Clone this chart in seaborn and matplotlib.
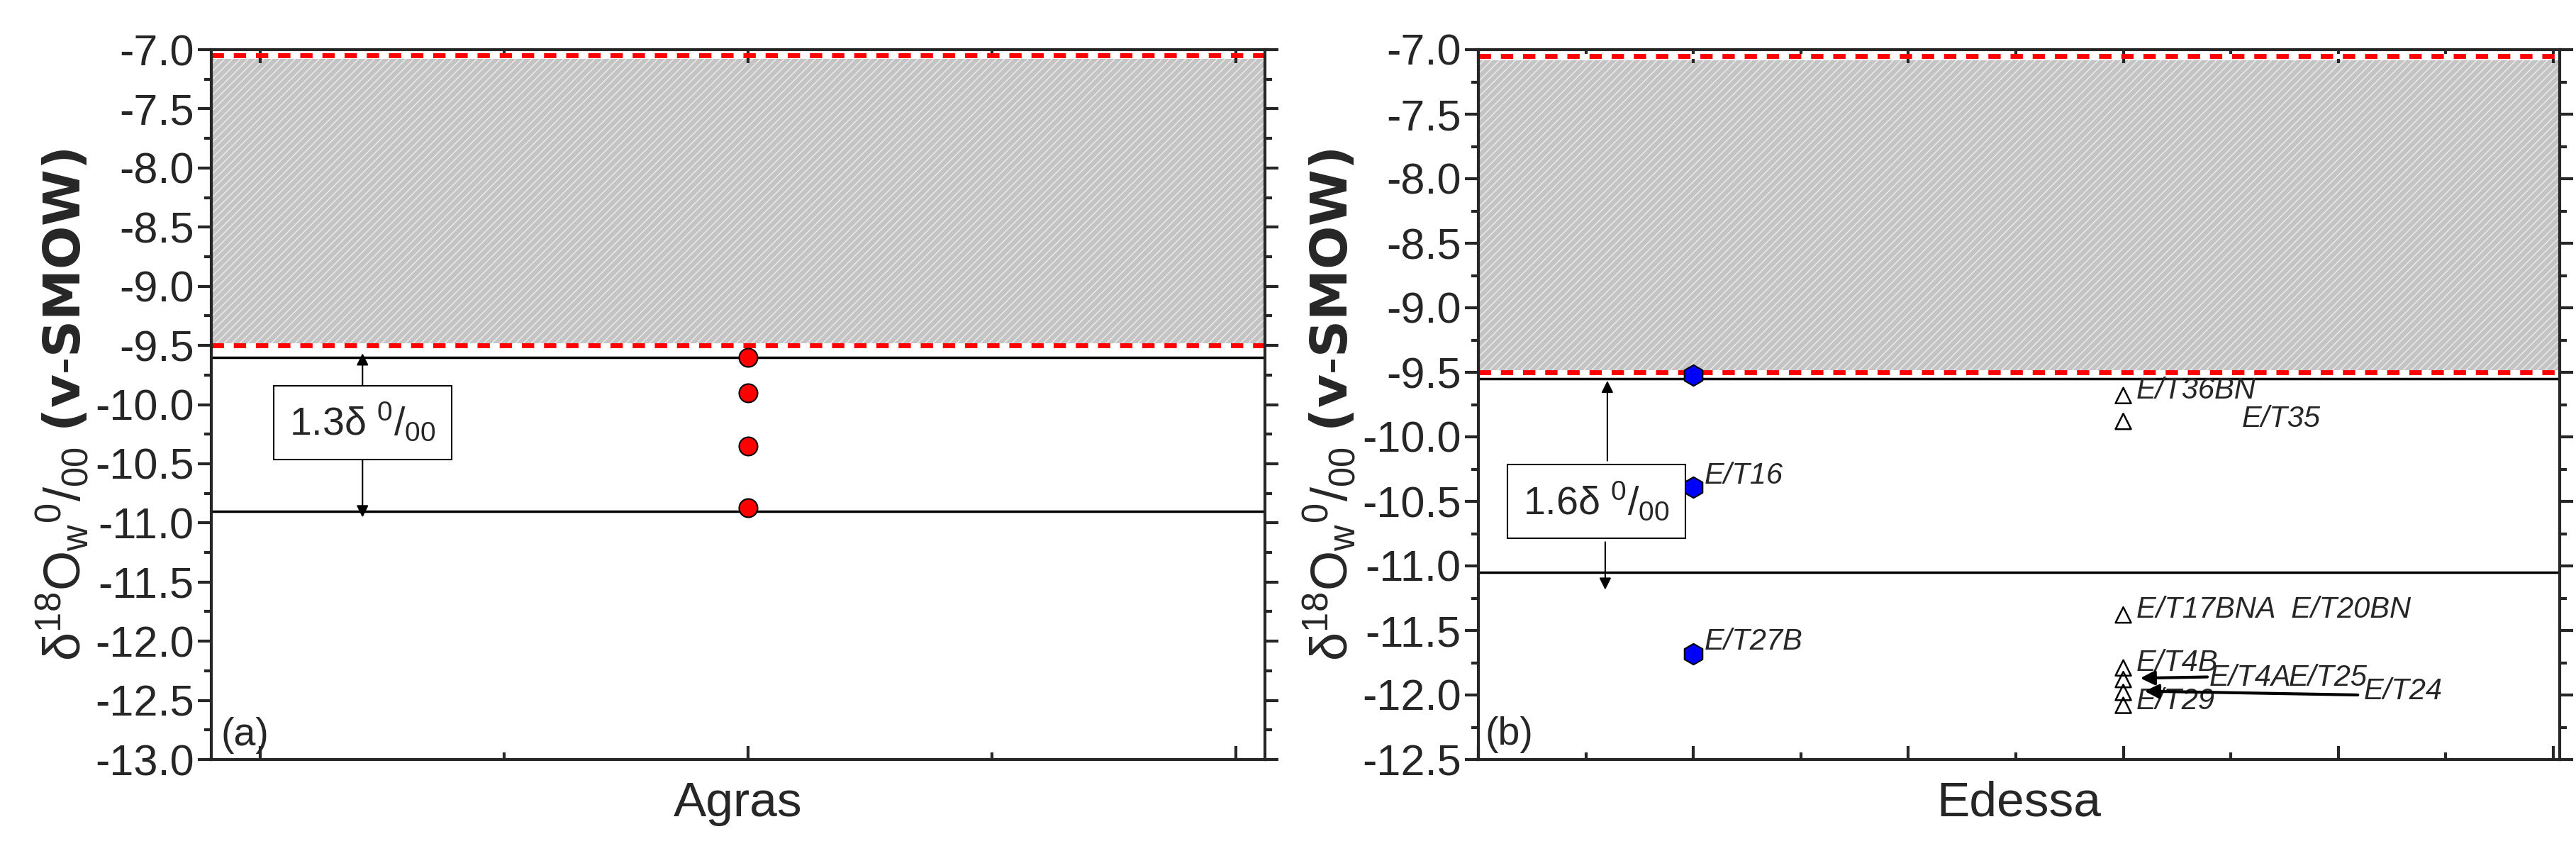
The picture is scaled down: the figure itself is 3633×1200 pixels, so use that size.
import matplotlib
matplotlib.use("Agg")
import matplotlib.pyplot as plt
import seaborn as sns
import pandas as pd
from matplotlib.ticker import MultipleLocator

sns.set_style("ticks")
plt.rcParams['font.family'] = ['Liberation Sans Narrow', 'Liberation Sans', 'DejaVu Sans']
plt.rcParams['mathtext.default'] = 'regular'

# Data
agras_x = [2, 2, 2, 2]
agras_y = [-9.6, -9.9, -10.35, -10.87]

edessa_hex_x = [1, 1, 1]
edessa_hex_y = [-9.52, -10.39, -11.68]
edessa_hex_lab = ["", "E/T16", "E/T27B"]

edessa_tri_x = [3, 3, 3, 3, 3, 3, 3]
edessa_tri_y = [-9.68, -9.88, -11.38, -11.79, -11.88, -11.98, -12.08]

band_top, band_bot = -7.08, -9.5
red_lines = [-7.05, -9.5]
agras_lines = [-9.6, -10.9]
edessa_lines = [-9.55, -11.05]

fig = plt.figure(figsize=(36.33, 12), dpi=100)
axL = fig.add_axes([298/3633, 1-1071/1200, (1784-298)/3633, 1001/1200])
axR = fig.add_axes([2085/3633, 1-1071/1200, (3610-2085)/3633, 1001/1200])

def style(ax):
    ax.tick_params(which='both', direction='in', top=True, right=True, width=3, labelsize=44)
    ax.tick_params(which='major', length=14)
    ax.tick_params(which='minor', length=7)
    ax.tick_params(axis='y', which='both', direction='out')
    for s in ax.spines.values():
        s.set_linewidth(3)
    ax.set_xticklabels([])

ylab = r'$\delta^{18}$O$_{w}$$^{0}$/$_{00}$ $\mathbf{(v}$-$\mathbf{SMOW)}$'

for ax, lines in [(axL, agras_lines), (axR, edessa_lines)]:
    ax.axhspan(band_bot, band_top, facecolor='#c4c4c4', edgecolor='#eeeeee', hatch='///', linewidth=0, zorder=0)
    for r in red_lines:
        ax.axhline(r, color='white', lw=5, zorder=1)
        ax.axhline(r, color='red', lw=5, ls=(0, (2.5, 2)), zorder=1.5)
    for l in lines:
        ax.axhline(l, color='black', lw=2.5, zorder=1)

# Left
sns.scatterplot(x=agras_x, y=agras_y, ax=axL, color='red', edgecolor='black', s=350, linewidth=1.5, zorder=3, legend=False)
axL.set_xlim(0.9, 3.06)
axL.set_ylim(-13.0, -7.0)
axL.xaxis.set_major_locator(MultipleLocator(1))
axL.xaxis.set_minor_locator(MultipleLocator(0.5))
axL.yaxis.set_major_locator(MultipleLocator(0.5))
axL.yaxis.set_minor_locator(MultipleLocator(0.25))
style(axL)
axL.set_xlabel("Agras", fontsize=50, labelpad=18)
axL.set_ylabel(ylab, fontsize=52, labelpad=4)
axL.yaxis.set_major_formatter(matplotlib.ticker.FormatStrFormatter('%.1f'))
axL.annotate('', xy=(1.21, -9.55), xytext=(1.21, -9.85), arrowprops=dict(arrowstyle='-|>', color='black', lw=1.5, mutation_scale=25))
axL.annotate('', xy=(1.21, -10.97), xytext=(1.21, -10.45), arrowprops=dict(arrowstyle='-|>', color='black', lw=1.5, mutation_scale=25))
axL.text(1.21, -10.15, r'1.3$\delta$ $^{0}$/$_{00}$', fontsize=40, ha='center', va='center',
         bbox=dict(boxstyle='square,pad=0.4', fc='white', ec='black', lw=1.5))
axL.text(0.92, -12.95, '(a)', fontsize=40, va='bottom')

# Right
sns.scatterplot(x=edessa_hex_x, y=edessa_hex_y, ax=axR, color='blue', edgecolor='black', marker='h', s=450, linewidth=1.5, zorder=3, legend=False)
sns.scatterplot(x=edessa_tri_x, y=edessa_tri_y, ax=axR, color='none', edgecolor='black', marker='^', s=250, linewidth=1.8, zorder=3, legend=False)
axR.set_xlim(0, 5.03)
axR.set_ylim(-12.5, -7.0)
axR.xaxis.set_major_locator(MultipleLocator(1))
axR.xaxis.set_minor_locator(MultipleLocator(0.5))
axR.yaxis.set_major_locator(MultipleLocator(0.5))
axR.yaxis.set_minor_locator(MultipleLocator(0.25))
style(axR)
axR.set_xlabel("Edessa", fontsize=50, labelpad=18)
axR.set_ylabel(ylab, fontsize=52, labelpad=4)
axR.yaxis.set_major_formatter(matplotlib.ticker.FormatStrFormatter('%.1f'))

lab_kw = dict(fontsize=30, style='italic', va='bottom')
for x, y, t in zip(edessa_hex_x, edessa_hex_y, edessa_hex_lab):
    if t:
        axR.text(x + 0.05, y - 0.02, t, **lab_kw)
axR.text(3.06, -9.75, 'E/T36BN', **lab_kw)
axR.text(3.55, -9.97, 'E/T35', **lab_kw)
axR.text(3.06, -11.45, 'E/T17BNA  E/T20BN', **lab_kw)
axR.text(3.06, -11.86, 'E/T4B', **lab_kw)
axR.text(3.06, -12.16, 'E/T29', **lab_kw)
axR.text(3.4, -11.98, 'E/T4A', **lab_kw)
axR.text(3.77, -11.98, 'E/T25', **lab_kw)
axR.text(4.12, -12.08, 'E/T24', **lab_kw)
axR.annotate('', xy=(3.07, -11.87), xytext=(3.4, -11.86), arrowprops=dict(arrowstyle='-|>', color='black', lw=3, mutation_scale=30))
axR.annotate('', xy=(3.09, -11.97), xytext=(4.1, -12.0), arrowprops=dict(arrowstyle='-|>', color='black', lw=3, mutation_scale=30))

axR.annotate('', xy=(0.6, -9.55), xytext=(0.6, -10.2), arrowprops=dict(arrowstyle='-|>', color='black', lw=1.5, mutation_scale=25))
axR.annotate('', xy=(0.59, -11.2), xytext=(0.59, -10.8), arrowprops=dict(arrowstyle='-|>', color='black', lw=1.5, mutation_scale=25))
axR.text(0.55, -10.5, r'1.6$\delta$ $^{0}$/$_{00}$', fontsize=40, ha='center', va='center',
         bbox=dict(boxstyle='square,pad=0.4', fc='white', ec='black', lw=1.5))
axR.text(0.03, -12.45, '(b)', fontsize=40, va='bottom')

fig.savefig("out.png", dpi=100)
